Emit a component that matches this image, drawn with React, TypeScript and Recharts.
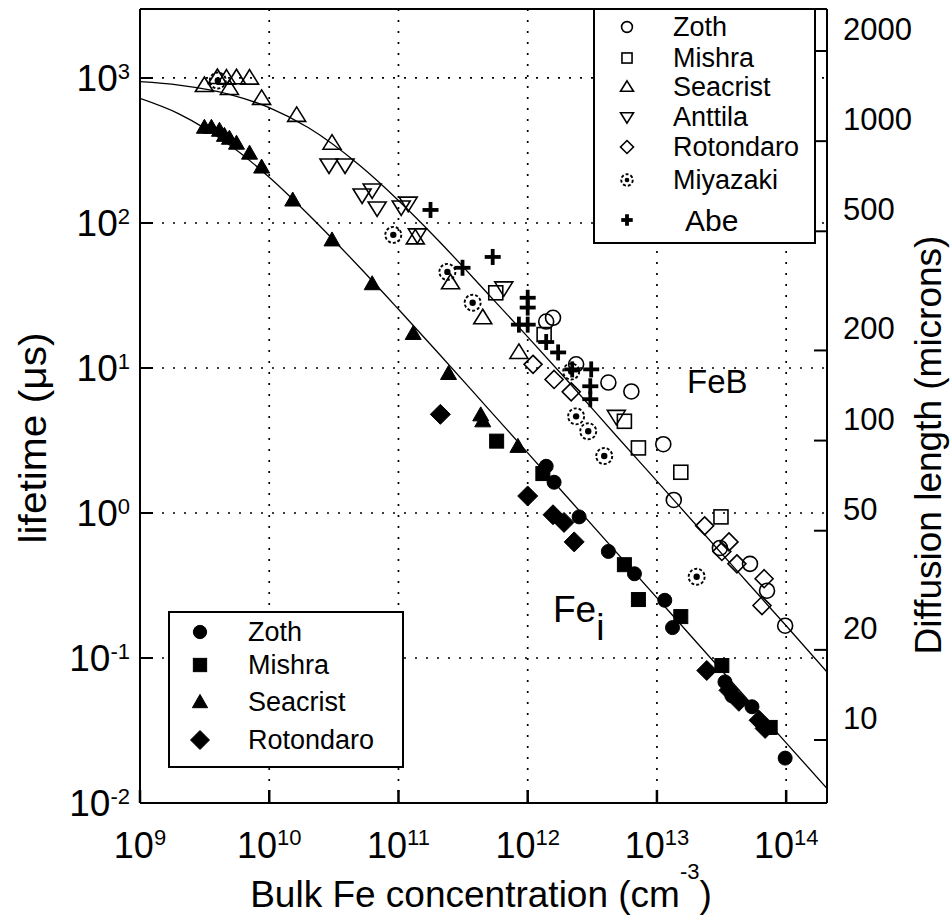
import React from "react";
import { CartesianGrid, ComposedChart, Line, Scatter, XAxis, YAxis } from "recharts";

const FONT = "'Liberation Sans', Arial, Helvetica, sans-serif";

// axis ticks
const concTicks = [1e9, 1e10, 1e11, 1e12, 1e13, 1e14];
const lifeTicks = [1e-2, 1e-1, 1, 10, 100, 1000];
const diffTicks = [10, 20, 50, 100, 200, 500, 1000, 2000];

// fitted curves [conc, lifetime]
const febFit = [
  [1e9, 943], [2e9, 893], [5e9, 769], [1e10, 625], [2e10, 455], [5e10, 250],
  [1e11, 143], [2e11, 77], [5e11, 32], [1e12, 16.4], [2e12, 8.3], [5e12, 3.3],
  [1e13, 1.66], [2e13, 0.83], [5e13, 0.333], [1e14, 0.167], [2.07e14, 0.08],
];
const feiFit = [
  [1e9, 723], [2e9, 566], [5e9, 342], [1e10, 207], [2e10, 115], [5e10, 49.5],
  [1e11, 25.4], [2e11, 12.9], [5e11, 5.18], [1e12, 2.6], [2e12, 1.3], [5e12, 0.52],
  [1e13, 0.26], [2e13, 0.13], [5e13, 0.052], [1e14, 0.026], [2.07e14, 0.0126],
];

// FeB data (open symbols)
const febZoth = [
  [1.39e12, 20.9], [1.57e12, 22.2], [2.37e12, 10.6], [4.21e12, 7.94], [6.34e12, 6.89],
  [1.12e13, 2.98], [1.35e13, 1.23], [3.07e13, 0.574], [5.25e13, 0.446], [7.11e13, 0.291],
  [9.82e13, 0.167],
];
const febMishra = [
  [5.66e11, 33.0], [1.34e12, 17.0], [5.6e12, 4.29], [7.19e12, 2.81], [1.53e13, 1.91], [3.13e13, 0.94],
];
const febSeacrist = [
  [3.15e9, 888], [3.97e9, 1008], [4.67e9, 998], [5.58e9, 1003], [7.04e9, 998], [4.92e9, 847],
  [8.73e9, 723], [1.63e10, 552], [3.06e10, 355], [1.35e11, 78.9], [2.53e11, 38.7],
  [4.49e11, 22.2], [8.55e11, 12.8],
];
const febAnttila = [
  [2.9e10, 251], [3.86e10, 251], [5.23e10, 156], [6.26e10, 169], [6.84e10, 127],
  [1.05e11, 129], [1.19e11, 137], [1.4e11, 82.8], [6.53e11, 35.7], [4.85e12, 4.64],
];
const febRotondaro = [
  [1.1e12, 10.6], [1.6e12, 8.33], [2.17e12, 6.85], [2.34e13, 0.815], [3.61e13, 0.632],
  [3.18e13, 0.543], [4.16e13, 0.446], [6.75e13, 0.352], [6.5e13, 0.23],
];
const febMiyazaki = [
  [4.0e9, 960], [9.12e10, 82.8], [2.39e11, 46.0], [3.75e11, 28.2], [2.17e12, 9.46],
  [2.37e12, 4.64], [2.94e12, 3.66], [3.91e12, 2.47], [2.03e13, 0.363],
];
const febAbe = [
  [1.77e11, 123], [5.36e11, 58.3], [3.13e11, 49.1], [1.0e12, 30.5], [1.0e12, 26.1],
  [8.55e11, 19.9], [1.0e12, 19.9], [1.39e12, 15.1], [1.72e12, 12.8], [2.21e12, 9.78],
  [3.1e12, 9.78], [3.05e12, 7.48], [3.05e12, 6.09],
];

// Fe_i data (filled symbols)
const feiZoth = [
  [1.39e12, 2.1], [1.6e12, 1.63], [2.5e12, 0.94], [4.21e12, 0.543], [6.7e12, 0.381],
  [1.15e13, 0.25], [1.32e13, 0.162], [3.36e13, 0.0684], [3.8e13, 0.0549], [5.44e13, 0.0461],
  [9.82e13, 0.0204],
];
const feiMishra = [
  [5.75e11, 3.13], [1.31e12, 1.87], [5.6e12, 0.44], [7.19e12, 0.253], [1.53e13, 0.193],
  [3.18e13, 0.0887], [7.52e13, 0.0332],
];
const feiSeacrist = [
  [3.15e9, 457], [3.57e9, 457], [4.12e9, 436], [4.5e9, 402], [4.92e9, 384], [5.58e9, 355],
  [7.04e9, 303], [8.73e9, 243], [1.52e10, 144], [3.06e10, 76.4], [6.26e10, 38.1],
  [1.3e11, 17.3], [2.44e11, 9.16], [4.33e11, 4.75], [4.49e11, 4.32], [8.4e11, 2.88],
];
const feiRotondaro = [
  [2.11e11, 4.79], [1.0e12, 1.31], [1.57e12, 0.972], [1.91e12, 0.861], [2.29e12, 0.632],
  [2.43e13, 0.082], [3.61e13, 0.0598], [4.31e13, 0.0503], [6.17e13, 0.0372], [6.87e13, 0.0327],
];

const pts = (a: number[][]) => a.map(([n, t]) => ({ n, t }));

type Kind =
  | "oCircle" | "oSquare" | "oUp" | "oDown" | "oDiamond" | "miya" | "plus"
  | "fCircle" | "fSquare" | "fUp" | "fDiamond";

function Mark({ kind, x, y, s = 1 }: { kind: Kind; x: number; y: number; s?: number }) {
  const open = { fill: "none", stroke: "#000", strokeWidth: 1.6 };
  const solid = { fill: "#000", stroke: "#000", strokeWidth: 1 };
  switch (kind) {
    case "oCircle":
      return <circle cx={x} cy={y} r={7.5 * s} {...open} />;
    case "oSquare":
      return <rect x={x - 7 * s} y={y - 7 * s} width={14 * s} height={14 * s} {...open} />;
    case "oUp":
      return <polygon points={`${x},${y - 8.5 * s} ${x + 9 * s},${y + 6 * s} ${x - 9 * s},${y + 6 * s}`} {...open} />;
    case "oDown":
      return <polygon points={`${x},${y + 8.5 * s} ${x + 9 * s},${y - 6 * s} ${x - 9 * s},${y - 6 * s}`} {...open} />;
    case "oDiamond":
      return <polygon points={`${x},${y - 9 * s} ${x + 9 * s},${y} ${x},${y + 9 * s} ${x - 9 * s},${y}`} {...open} />;
    case "miya":
      return (
        <g>
          <circle cx={x} cy={y} r={8 * s} fill="none" stroke="#000" strokeWidth={1.9} strokeDasharray="3 2" />
          <circle cx={x} cy={y} r={3.2 * s} fill="#000" />
        </g>
      );
    case "plus":
      return (
        <g stroke="#000" strokeWidth={3.8}>
          <line x1={x - 8 * s} y1={y} x2={x + 8 * s} y2={y} />
          <line x1={x} y1={y - 8 * s} x2={x} y2={y + 8 * s} />
        </g>
      );
    case "fCircle":
      return <circle cx={x} cy={y} r={7 * s} {...solid} />;
    case "fSquare":
      return <rect x={x - 7 * s} y={y - 7 * s} width={14 * s} height={14 * s} {...solid} />;
    case "fUp":
      return <polygon points={`${x},${y - 8 * s} ${x + 8 * s},${y + 6 * s} ${x - 8 * s},${y + 6 * s}`} {...solid} />;
    case "fDiamond":
      return <polygon points={`${x},${y - 10 * s} ${x + 10 * s},${y} ${x},${y + 10 * s} ${x - 10 * s},${y}`} {...solid} />;
  }
  return null;
}

const shapeOf = (kind: Kind) => (p: any) => <Mark kind={kind} x={p.cx} y={p.cy} />;

const exp = (v: number) => String(Math.round(Math.log10(v)));

function BottomTick(p: any) {
  const { x, y, payload } = p;
  return (
    <g>
      <line x1={x} y1={y} x2={x} y2={y - 13} stroke="#000" strokeWidth={2.5} />
      <text x={x} y={y + 55} textAnchor="middle" fontFamily={FONT} fontSize={36} fill="#000">
        10<tspan dy={-13} fontSize={22}>{exp(payload.value)}</tspan>
      </text>
    </g>
  );
}

function TopTick(p: any) {
  const { x, y } = p;
  return <line x1={x} y1={y} x2={x} y2={y + 13} stroke="#000" strokeWidth={2.5} />;
}

function LeftTick(p: any) {
  const { x, y, payload } = p;
  return (
    <g>
      <line x1={x} y1={y} x2={x + 13} y2={y} stroke="#000" strokeWidth={2} />
      <text x={x - 10} y={y + 13} textAnchor="end" fontFamily={FONT} fontSize={37} fill="#000">
        10<tspan dy={-12} fontSize={22}>{exp(payload.value)}</tspan>
      </text>
    </g>
  );
}

function RightTick(p: any) {
  const { x, y, payload } = p;
  return (
    <g>
      <line x1={x - 13} y1={y} x2={x} y2={y} stroke="#000" strokeWidth={2} />
      <text x={x + 16} y={y - 11} fontFamily={FONT} fontSize={31} fill="#000">
        {payload.value}
      </text>
    </g>
  );
}

const febLegend: { kind: Kind; label: string; y: number }[] = [
  { kind: "oCircle", label: "Zoth", y: 27 },
  { kind: "oSquare", label: "Mishra", y: 58 },
  { kind: "oUp", label: "Seacrist", y: 87 },
  { kind: "oDown", label: "Anttila", y: 117 },
  { kind: "oDiamond", label: "Rotondaro", y: 147 },
  { kind: "miya", label: "Miyazaki", y: 180 },
  { kind: "plus", label: "Abe", y: 220 },
];
const feiLegend: { kind: Kind; label: string; y: number }[] = [
  { kind: "fCircle", label: "Zoth", y: 632 },
  { kind: "fSquare", label: "Mishra", y: 665 },
  { kind: "fUp", label: "Seacrist", y: 702 },
  { kind: "fDiamond", label: "Rotondaro", y: 740 },
];

function Overlay() {
  return (
    <svg width={952} height={916} style={{ position: "absolute", left: 0, top: 0, pointerEvents: "none" }}>
      <g fontFamily={FONT} fill="#000">
        <rect x={594} y={9} width={221} height={234} fill="#fff" stroke="#000" strokeWidth={2} />
        {febLegend.map((e) => (
          <g key={e.label}>
            <Mark kind={e.kind} x={627} y={e.y} s={0.72} />
            <text
              x={e.label === "Abe" ? 685 : 673}
              y={e.y}
              dominantBaseline="central"
              fontSize={e.label === "Abe" ? 30 : 27}
            >
              {e.label}
            </text>
          </g>
        ))}
        <rect x={169} y={612} width={234} height={155} fill="#fff" stroke="#000" strokeWidth={2} />
        {feiLegend.map((e) => (
          <g key={e.label}>
            <Mark kind={e.kind} x={200} y={e.y} s={0.95} />
            <text x={248} y={e.y} dominantBaseline="central" fontSize={27}>
              {e.label}
            </text>
          </g>
        ))}
        <text
          transform="translate(33,438) rotate(-90)"
          textAnchor="middle"
          dominantBaseline="central"
          fontSize={38}
          textLength={211}
          lengthAdjust="spacingAndGlyphs"
        >
          lifetime (μs)
        </text>
        <text
          transform="translate(928,445) rotate(-90)"
          textAnchor="middle"
          dominantBaseline="central"
          fontSize={37}
        >
          Diffusion length (microns)
        </text>
        <text x={481} y={907} textAnchor="middle" fontSize={37}>
          Bulk Fe concentration (cm<tspan dy={-28} fontSize={22}>-3</tspan>
          <tspan dy={28} fontSize={37}>)</tspan>
        </text>
        <text x={687} y={393} fontSize={33}>FeB</text>
        <text x={553} y={622} fontSize={37}>
          Fe<tspan dy={18}>i</tspan>
        </text>
      </g>
    </svg>
  );
}

export default function App() {
  const axisLine = { stroke: "#000", strokeWidth: 2 };
  return (
    <div style={{ position: "absolute", left: 0, top: 0, width: 952, height: 916, background: "#fff" }}>
      <ComposedChart width={952} height={916} margin={{ top: 8, right: 25, bottom: 13, left: 40 }}>
        <CartesianGrid stroke="#000" strokeWidth={1.7} strokeDasharray="2 9" />
        <XAxis
          dataKey="n"
          type="number"
          scale="log"
          domain={[1e9, 2.07e14]}
          allowDataOverflow
          ticks={concTicks}
          interval={0}
          height={100}
          tickSize={0}
          tickMargin={0}
          tickLine={false}
          axisLine={axisLine}
          tick={BottomTick}
        />
        <XAxis
          xAxisId="top"
          orientation="top"
          type="number"
          scale="log"
          domain={[1e9, 2.07e14]}
          allowDataOverflow
          ticks={concTicks}
          interval={0}
          height={1}
          tickSize={0}
          tickMargin={0}
          tickLine={false}
          axisLine={axisLine}
          tick={TopTick}
        />
        <YAxis
          dataKey="t"
          type="number"
          scale="log"
          domain={[0.01, 2990]}
          allowDataOverflow
          ticks={lifeTicks}
          interval={0}
          width={100}
          tickSize={0}
          tickMargin={0}
          tickLine={false}
          axisLine={axisLine}
          tick={LeftTick}
        />
        <YAxis
          yAxisId="diff"
          orientation="right"
          type="number"
          scale="log"
          domain={[6.16, 2763]}
          allowDataOverflow
          ticks={diffTicks}
          interval={0}
          width={100}
          tickSize={0}
          tickMargin={0}
          tickLine={false}
          axisLine={axisLine}
          tick={RightTick}
        />
        <Line data={pts(febFit)} dataKey="t" type="monotone" stroke="#000" strokeWidth={1.3} dot={false} isAnimationActive={false} />
        <Line data={pts(feiFit)} dataKey="t" type="monotone" stroke="#000" strokeWidth={1.3} dot={false} isAnimationActive={false} />

        <Scatter data={pts(febSeacrist)} shape={shapeOf("oUp")} isAnimationActive={false} />
        <Scatter data={pts(febAnttila)} shape={shapeOf("oDown")} isAnimationActive={false} />
        <Scatter data={pts(febZoth)} shape={shapeOf("oCircle")} isAnimationActive={false} />
        <Scatter data={pts(febMishra)} shape={shapeOf("oSquare")} isAnimationActive={false} />
        <Scatter data={pts(febRotondaro)} shape={shapeOf("oDiamond")} isAnimationActive={false} />
        <Scatter data={pts(febMiyazaki)} shape={shapeOf("miya")} isAnimationActive={false} />
        <Scatter data={pts(febAbe)} shape={shapeOf("plus")} isAnimationActive={false} />

        <Scatter data={pts(feiSeacrist)} shape={shapeOf("fUp")} isAnimationActive={false} />
        <Scatter data={pts(feiRotondaro)} shape={shapeOf("fDiamond")} isAnimationActive={false} />
        <Scatter data={pts(feiMishra)} shape={shapeOf("fSquare")} isAnimationActive={false} />
        <Scatter data={pts(feiZoth)} shape={shapeOf("fCircle")} isAnimationActive={false} />
      </ComposedChart>
      <Overlay />
    </div>
  );
}
